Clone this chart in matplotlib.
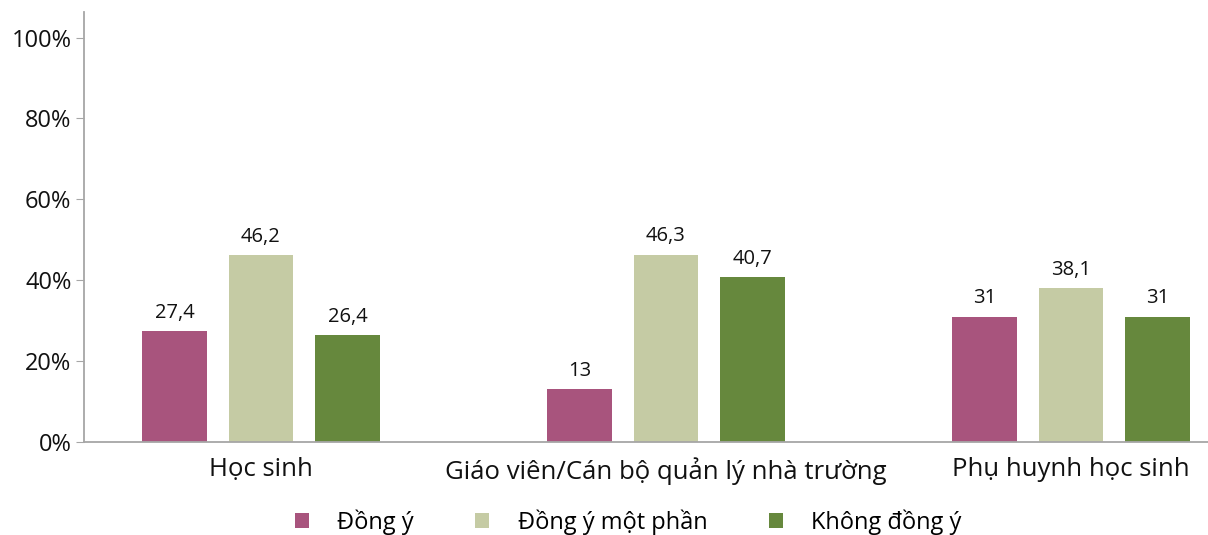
import matplotlib.pyplot as plt
import numpy as np

plt.rcParams['font.family'] = ['Open Sans', 'DejaVu Sans']

groups = ['Học sinh', 'Giáo viên/Cán bộ quản lý nhà trường', 'Phụ huynh học sinh']
series = ['Đồng ý', 'Đồng ý một phần', 'Không đồng ý']
dong_y = [27.4, 13, 31]
mot_phan = [46.2, 46.3, 38.1]
khong = [26.4, 40.7, 31]
labels = [['27,4', '13', '31'], ['46,2', '46,3', '38,1'], ['26,4', '40,7', '31']]
colors = ['#A8547D', '#C5CBA4', '#66883D']

fig = plt.figure(figsize=(12.08, 5.35), dpi=100)
ax = fig.add_axes([0.0695, 0.174, 0.9305, 0.804])

x = np.arange(len(groups))
width = 0.16
offsets = [-0.2135, 0, 0.2135]
for vals, lab, off, c, name in zip([dong_y, mot_phan, khong], labels, offsets, colors, series):
    bars = ax.bar(x + off, vals, width, color=c, label=name, zorder=2)
    for b, t in zip(bars, lab):
        ax.annotate(t, (b.get_x() + b.get_width() / 2, b.get_height()),
                    xytext=(0, 6), textcoords='offset points',
                    ha='center', va='bottom', fontsize=14.5, color='#111111')

ax.set_xlim(-0.437, 2.338)
ax.set_ylim(0, 106.4)
ax.set_yticks([0, 20, 40, 60, 80, 100])
ax.set_yticklabels(['0%', '20%', '40%', '60%', '80%', '100%'])
ax.set_xticks(x)
ax.set_xticklabels(groups, fontsize=18.5)

for s in ['top', 'right']:
    ax.spines[s].set_visible(False)
for s in ['left', 'bottom']:
    ax.spines[s].set_color('#A6A6A6')
    ax.spines[s].set_linewidth(1.3)
ax.tick_params(axis='y', length=6, color='#A6A6A6', labelsize=17, pad=3, labelcolor='#111111')
ax.tick_params(axis='x', length=0, pad=11, labelcolor='#111111')

ax.legend(loc='lower center', bbox_to_anchor=(0.484, -0.265), ncol=3, frameon=False,
          fontsize=17, handlelength=0.6, handleheight=0.6, columnspacing=2.6, handletextpad=1.2)

fig.savefig('out.png', dpi=100)
